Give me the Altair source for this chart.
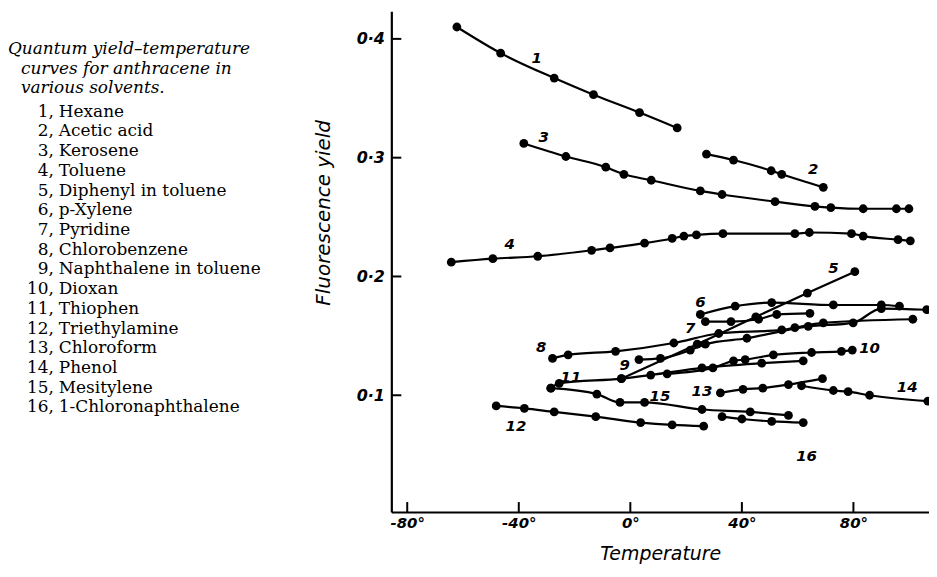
import altair as alt
import pandas as pd

# ---- data ----
names = ["Hexane", "Acetic acid", "Kerosene", "Toluene", "Diphenyl in toluene",
         "p-Xylene", "Pyridine", "Chlorobenzene", "Naphthalene in toluene", "Dioxan",
         "Thiophen", "Triethylamine", "Chloroform", "Phenol", "Mesitylene",
         "1-Chloronaphthalene"]

t1 = [-62.2, -46.5, -27.3, -13.2, 3.3, 16.8]
y1 = [0.410, 0.388, 0.367, 0.353, 0.338, 0.325]
t2 = [27.3, 37.0, 50.5, 54.3, 69.2]
y2 = [0.303, 0.298, 0.289, 0.286, 0.275]
t3 = [-38.2, -23.1, -8.8, -2.3, 7.5, 25.1, 32.9, 51.9, 66.2, 71.9, 83.5, 95.4, 99.9]
y3 = [0.312, 0.301, 0.292, 0.286, 0.281, 0.272, 0.269, 0.263, 0.259, 0.258, 0.257, 0.257, 0.257]
t4 = [-64.2, -49.3, -33.2, -13.9, -7.3, 5.1, 15.0, 19.2, 23.7, 33.2, 59.0, 64.2, 79.3, 83.5, 96.0, 100.4]
y4 = [0.212, 0.215, 0.217, 0.222, 0.224, 0.228, 0.232, 0.234, 0.235, 0.236, 0.236, 0.237, 0.236, 0.234, 0.231, 0.230]
t5 = [-3.2, 24.0, 45.0, 63.5, 80.5]
y5 = [0.114, 0.143, 0.166, 0.186, 0.204]
t6 = [25.1, 37.6, 50.7, 72.8, 90.0, 96.5]
y6 = [0.168, 0.175, 0.178, 0.176, 0.176, 0.175]
t7 = [26.9, 36.1, 46.0, 52.5, 64.4]
y7 = [0.162, 0.162, 0.164, 0.168, 0.169]
t8 = [-27.9, -22.3, -5.3, 15.6, 31.7, 54.3, 59.0, 69.2, 101.3]
y8 = [0.131, 0.134, 0.137, 0.144, 0.152, 0.155, 0.157, 0.161, 0.164]
t9 = [3.1, 10.8, 21.5, 26.9, 41.8, 63.8, 79.9, 90.0, 106.3]
y9 = [0.130, 0.131, 0.138, 0.143, 0.148, 0.158, 0.161, 0.173, 0.172]
t10 = [13.2, 29.6, 37.0, 41.2, 51.3, 65.0, 75.7, 79.6]
y10 = [0.118, 0.123, 0.129, 0.130, 0.134, 0.136, 0.137, 0.138]
t11 = [-28.5, -25.5, -3.2, 7.3, 25.7, 47.1, 62.0]
y11 = [0.106, 0.110, 0.114, 0.117, 0.123, 0.127, 0.129]
t12 = [-48.1, -38.0, -27.3, -12.4, 3.7, 15.0, 26.3]
y12 = [0.091, 0.089, 0.086, 0.082, 0.077, 0.075, 0.074]
t13 = [32.3, 40.4, 47.5, 56.7, 68.9]
y13 = [0.102, 0.105, 0.106, 0.109, 0.114]
t14 = [61.4, 72.8, 78.1, 85.8, 106.7]
y14 = [0.108, 0.104, 0.103, 0.100, 0.095]
t15 = [-28.5, -12.0, -3.7, 5.1, 25.7, 43.0, 56.7]
y15 = [0.106, 0.101, 0.094, 0.094, 0.088, 0.086, 0.083]
t16 = [32.9, 40.0, 50.7, 62.0]
y16 = [0.082, 0.080, 0.078, 0.077]

curves = [(t1, y1), (t2, y2), (t3, y3), (t4, y4), (t5, y5), (t6, y6), (t7, y7), (t8, y8),
          (t9, y9), (t10, y10), (t11, y11), (t12, y12), (t13, y13), (t14, y14), (t15, y15),
          (t16, y16)]

# positions of the curve numbers written on the plot
label_t = [-33.6, 65.6, -31.1, -43.3, 72.8, 25.1, 21.5, -32.0, -2.0, 85.8, -21.3, -41.0, 25.7, 99.3, 10.6, 63.2]
label_y = [0.384, 0.2906, 0.317, 0.227, 0.2068, 0.1788, 0.157, 0.141, 0.1258, 0.1397, 0.1154, 0.0740, 0.1033, 0.1070, 0.0992, 0.0492]

x_ticks = [-80, -40, 0, 40, 80]
y_ticks = [0.1, 0.2, 0.3, 0.4]

caption = ["Quantum yield\u2013temperature", "curves for anthracene in", "various solvents."]

# ---- tables ----
rows = []
for i, (ts, ys) in enumerate(curves):
    for t, y in zip(ts, ys):
        rows.append({"curve": i + 1, "T": t, "Y": y})
df = pd.DataFrame(rows)
lab_df = pd.DataFrame({"T": label_t, "Y": label_y, "lab": [str(i + 1) for i in range(16)]})

W, H = 540, 503
xscale = alt.Scale(domain=[-85.7, 107.1], nice=False, zero=False)
yscale = alt.Scale(domain=[0.0017, 0.4233], nice=False, zero=False)
HAND = "DejaVu Sans"
SERIF = "DejaVu Serif"

x_axis = alt.Axis(values=x_ticks, labelExpr="datum.value + '\u00b0'", title="Temperature",
                  ticks=False, tickSize=0, grid=False, domainColor="black", domainWidth=2.2,
                  labelFont=HAND, labelFontStyle="italic", labelFontWeight="bold", labelFontSize=15,
                  labelColor="black", labelPadding=4, labelFlush=False, labelOverlap=False,
                  titleFont=HAND, titleFontStyle="italic", titleFontWeight="normal", titleFontSize=19,
                  titleColor="black", titleX=270, titleY=42, titleBaseline="middle", titleAlign="center")
y_axis = alt.Axis(values=y_ticks, labelExpr="replace(format(datum.value, '.1f'), '.', '\u00b7')",
                  title="Fluorescence yield",
                  ticks=False, tickSize=0, grid=False, domainColor="black", domainWidth=2.2,
                  labelFont=HAND, labelFontStyle="italic", labelFontWeight="bold", labelFontSize=16,
                  labelColor="black", labelPadding=7, labelFlush=False, labelOverlap=False,
                  titleFont=HAND, titleFontStyle="italic", titleFontWeight="normal", titleFontSize=20,
                  titleColor="black", titleAngle=270, titleX=-68, titleY=202,
                  titleAlign="center", titleBaseline="middle")

X = alt.X("T:Q", scale=xscale, axis=x_axis)
Y = alt.Y("Y:Q", scale=yscale, axis=y_axis)

base = alt.Chart(df)
lines = base.mark_line(color="black", strokeWidth=2.2, interpolate="monotone").encode(
    x=X, y=Y, detail="curve:N", order="T:Q")
points = base.mark_circle(color="black", size=78, opacity=1).encode(x=X, y=Y)
labels = alt.Chart(lab_df).mark_text(font=HAND, fontStyle="italic", fontWeight="bold", fontSize=15,
                                     color="black", align="center", baseline="middle").encode(
    x=X, y=Y, text="lab:N")
ytk = alt.Chart(pd.DataFrame({"Y": y_ticks})).mark_rule(color="black", strokeWidth=2).encode(
    y=Y, x=alt.value(0), x2=alt.value(10))
xtk = alt.Chart(pd.DataFrame({"T": x_ticks})).mark_rule(color="black", strokeWidth=2).encode(
    x=X, y=alt.value(H), y2=alt.value(H - 10))

one = pd.DataFrame({"a": [0]})
cap_layers = []
cap_x = [-385, -372, -372]
cap_y = [38, 57.8, 77.6]
for txt, cx, cy in zip(caption, cap_x, cap_y):
    cap_layers.append(alt.Chart(one).mark_text(font=SERIF, fontStyle="italic", fontSize=17, color="black",
                                               align="left", baseline="middle").encode(
        x=alt.value(cx), y=alt.value(cy), text=alt.value(txt)))

nums = "\n".join(f"{i + 1}," for i in range(16))
nms = "\n".join(names)
list_num = alt.Chart(one).mark_text(font=SERIF, fontSize=17, color="black", align="right",
                                    baseline="middle", lineBreak="\n", lineHeight=19.8).encode(
    x=alt.value(-339), y=alt.value(101), text=alt.value(nums))
list_nm = alt.Chart(one).mark_text(font=SERIF, fontSize=17, color="black", align="left",
                                   baseline="middle", lineBreak="\n", lineHeight=19.8).encode(
    x=alt.value(-334), y=alt.value(101), text=alt.value(nms))

chart = alt.layer(lines, points, labels, ytk, xtk, list_num, list_nm, *cap_layers).properties(
    width=W, height=H,
    autosize=alt.AutoSizeParams(type="none"),
    padding={"left": 385, "top": 2, "right": 0, "bottom": 56},
).configure_view(stroke=None)

chart.save("out.html", embed_options={"renderer": "svg", "actions": False})
